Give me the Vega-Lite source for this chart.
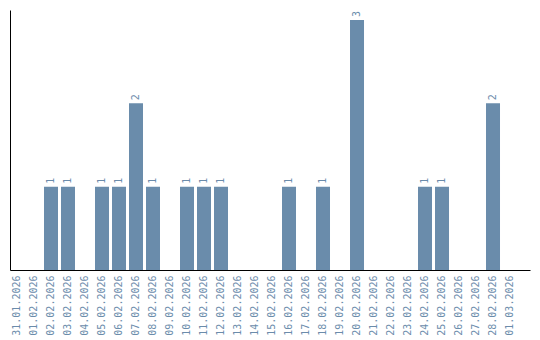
{
  "$schema": "https://vega.github.io/schema/vega-lite/v6.json",
  "autosize": {"type": "none"},
  "padding": {"left": 10, "top": 10, "right": 10, "bottom": 70},
  "width": 520,
  "height": 260,
  "config": {"view": {"stroke": null}, "font": "DejaVu Sans Mono"},
  "data": {"values": [
    {"date": "31.01.2026", "count": 0},
    {"date": "01.02.2026", "count": 0},
    {"date": "02.02.2026", "count": 1},
    {"date": "03.02.2026", "count": 1},
    {"date": "04.02.2026", "count": 0},
    {"date": "05.02.2026", "count": 1},
    {"date": "06.02.2026", "count": 1},
    {"date": "07.02.2026", "count": 2},
    {"date": "08.02.2026", "count": 1},
    {"date": "09.02.2026", "count": 0},
    {"date": "10.02.2026", "count": 1},
    {"date": "11.02.2026", "count": 1},
    {"date": "12.02.2026", "count": 1},
    {"date": "13.02.2026", "count": 0},
    {"date": "14.02.2026", "count": 0},
    {"date": "15.02.2026", "count": 0},
    {"date": "16.02.2026", "count": 1},
    {"date": "17.02.2026", "count": 0},
    {"date": "18.02.2026", "count": 1},
    {"date": "19.02.2026", "count": 0},
    {"date": "20.02.2026", "count": 3},
    {"date": "21.02.2026", "count": 0},
    {"date": "22.02.2026", "count": 0},
    {"date": "23.02.2026", "count": 0},
    {"date": "24.02.2026", "count": 1},
    {"date": "25.02.2026", "count": 1},
    {"date": "26.02.2026", "count": 0},
    {"date": "27.02.2026", "count": 0},
    {"date": "28.02.2026", "count": 2},
    {"date": "01.03.2026", "count": 0}
  ]},
  "encoding": {
    "x": {
      "field": "date", "type": "nominal", "sort": null,
      "scale": {"paddingInner": 0.1765, "paddingOuter": 0.382, "align": 0},
      "axis": {
        "title": null, "ticks": false, "labelAngle": -90, "labelPadding": 5,
        "labelFont": "DejaVu Sans Mono", "labelFontSize": 10, "labelColor": "#6b8cab",
        "domainColor": "#000000", "domainWidth": 1
      }
    },
    "y": {
      "field": "count", "type": "quantitative",
      "scale": {"domain": [0, 3.12], "nice": false},
      "axis": {"title": null, "ticks": false, "labels": false, "grid": false, "domainColor": "#000000", "domainWidth": 1}
    }
  },
  "layer": [
    {"mark": {"type": "bar", "color": "#6a8cab"}},
    {
      "transform": [{"filter": "datum.count > 0"}],
      "mark": {"type": "text", "angle": -90, "align": "left", "baseline": "middle", "dx": 3, "font": "DejaVu Sans Mono", "fontSize": 10, "color": "#6b8cab"},
      "encoding": {"text": {"field": "count", "type": "quantitative"}}
    }
  ]
}
